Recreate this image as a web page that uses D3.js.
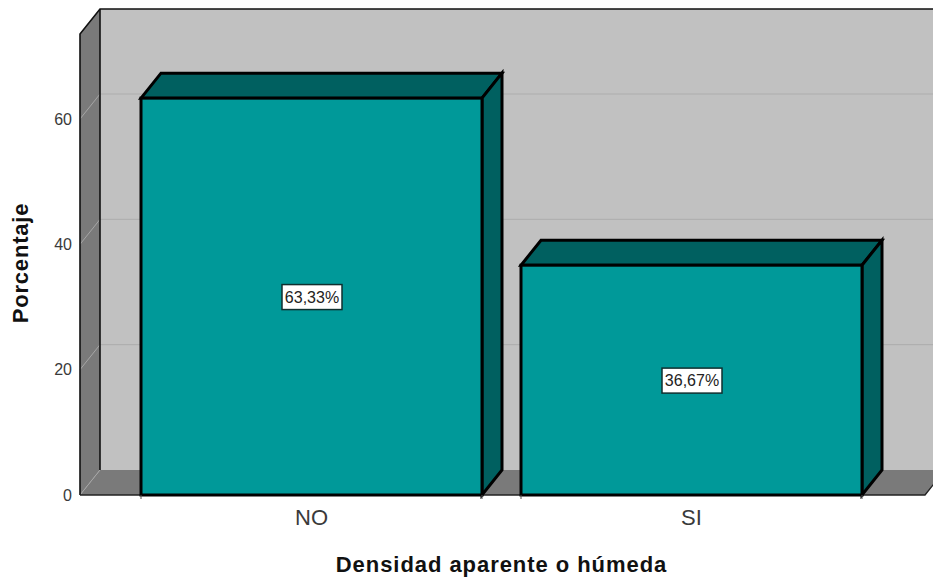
<!DOCTYPE html>
<html>
<head>
<meta charset="utf-8">
<script src="https://cdn.jsdelivr.net/npm/d3@7"></script>
<style>
html, body { margin: 0; padding: 0; background: #fff; overflow: hidden; }
svg { display: block; font-family: "Liberation Sans", Arial, sans-serif; }
</style>
</head>
<body>
<svg width="933" height="579"></svg>
<script>
const categories = ["NO", "SI"];
const percentages = [63.33, 36.67];
const percentLabels = ["63,33%", "36,67%"];
const yTicks = [0, 20, 40, 60];
const xTitle = "Densidad aparente o húmeda";
const yTitle = "Porcentaje";

const svg = d3.select("svg");

const attr_area = { left: 80, right: 925, top: 34, bottom: 495, depthX: 20, depthY: 25 };
const colors = {
    wall: "#c1c1c1", side: "#7a7a7a", grid: "#adadad", sideGrid: "#a6a6a6",
    front: "#009999", dark: "#006060", text: "#3a3a3a"
};

const scaleY = d3.scaleLinear()
    .domain([0, 60])
    .range([attr_area.bottom, 119]);

const scaleX = d3.scaleBand()
    .domain(categories)
    .range([attr_area.left, attr_area.right - 2])
    .paddingInner(39 / 380)
    .paddingOuter(61 / 380);

const a = attr_area;
const dx = a.depthX, dy = a.depthY;
const poly = pts => d3.line()(pts) + "Z";

// paredes del grafico
svg.append("path")
    .attr("d", poly([[a.left + dx, a.top - dy], [a.right + dx, a.top - dy], [a.right + dx, a.bottom - dy], [a.left + dx, a.bottom - dy]]))
    .attr("fill", colors.wall);
svg.append("path")
    .attr("d", poly([[a.left, a.top], [a.left + dx, a.top - dy], [a.left + dx, a.bottom - dy], [a.left, a.bottom]]))
    .attr("fill", colors.side);
svg.append("path")
    .attr("d", poly([[a.left, a.bottom], [a.left + dx, a.bottom - dy], [a.right + dx, a.bottom - dy], [a.right, a.bottom]]))
    .attr("fill", colors.side);

// rejilla
const gridTicks = yTicks.filter(d => d > 0);
svg.selectAll(".grid-back")
    .data(gridTicks)
    .enter()
    .append("line")
    .attr("x1", a.left + dx)
    .attr("x2", a.right + dx)
    .attr("y1", d => scaleY(d) - dy)
    .attr("y2", d => scaleY(d) - dy)
    .attr("stroke", colors.grid)
    .attr("stroke-width", 1);
svg.selectAll(".grid-side")
    .data(yTicks)
    .enter()
    .append("line")
    .attr("x1", a.left)
    .attr("x2", a.left + dx)
    .attr("y1", d => scaleY(d))
    .attr("y2", d => scaleY(d) - dy)
    .attr("stroke", colors.sideGrid)
    .attr("stroke-width", 1);

// bordes
svg.append("path")
    .attr("d", d3.line()([[a.left, a.bottom], [a.left, a.top], [a.left + dx, a.top - dy], [a.right + dx, a.top - dy]]))
    .attr("fill", "none")
    .attr("stroke", "#111")
    .attr("stroke-width", 1.6);
svg.append("line")
    .attr("x1", a.left + dx).attr("x2", a.left + dx)
    .attr("y1", a.top - dy).attr("y2", a.bottom - dy)
    .attr("stroke", "#111").attr("stroke-width", 1.6);
svg.append("path")
    .attr("d", d3.line()([[a.left, a.bottom], [a.right, a.bottom], [a.right + dx, a.bottom - dy]]))
    .attr("fill", "none")
    .attr("stroke", "#222")
    .attr("stroke-width", 1.4);

// barras
const bars = svg.selectAll(".bar")
    .data(categories.map((c, i) => ({ label: c, value: percentages[i], text: percentLabels[i] })))
    .enter()
    .append("g")
    .attr("class", "bar");

const bw = scaleX.bandwidth();

bars.append("path")
    .attr("d", d => {
        const x = scaleX(d.label), y = scaleY(d.value);
        return poly([[x, y], [x + dx, y - dy], [x + bw + dx, y - dy], [x + bw, y]]);
    })
    .attr("fill", colors.dark);
bars.append("path")
    .attr("d", d => {
        const x = scaleX(d.label) + bw, y = scaleY(d.value);
        return poly([[x, y], [x + dx, y - dy], [x + dx, a.bottom - dy], [x, a.bottom]]);
    })
    .attr("fill", colors.dark);
bars.append("rect")
    .attr("x", d => scaleX(d.label))
    .attr("y", d => scaleY(d.value))
    .attr("width", bw)
    .attr("height", d => a.bottom - scaleY(d.value))
    .attr("fill", colors.front);
bars.selectAll("path, rect")
    .attr("stroke", "#000")
    .attr("stroke-width", 3)
    .attr("stroke-linejoin", "miter");

// etiquetas de valor
const labelW = 60, labelH = 25;
bars.append("rect")
    .attr("x", d => scaleX(d.label) + bw / 2 - labelW / 2 + 0.5)
    .attr("y", d => (scaleY(d.value) + a.bottom) / 2 - labelH / 2 + 0.5)
    .attr("width", labelW)
    .attr("height", labelH)
    .attr("fill", "#fff")
    .attr("stroke", "#0f2f2f")
    .attr("stroke-width", 1.5);
bars.append("text")
    .attr("x", d => scaleX(d.label) + bw / 2 + 0.5)
    .attr("y", d => (scaleY(d.value) + a.bottom) / 2 + 6)
    .attr("text-anchor", "middle")
    .attr("font-size", 16)
    .attr("fill", "#222")
    .text(d => d.text);

// ejes
const axisY = d3.axisLeft(scaleY).tickValues(yTicks).tickSize(0).tickPadding(8);
const gY = svg.append("g")
    .attr("transform", `translate(${a.left}, 0)`)
    .call(axisY);
gY.select(".domain").remove();
gY.selectAll("text")
    .attr("font-size", 16)
    .attr("font-family", "'Liberation Sans', Arial, sans-serif")
    .attr("fill", colors.text);

const axisX = d3.axisBottom(scaleX).tickSize(0).tickPadding(14);
const gX = svg.append("g")
    .attr("transform", `translate(0, ${a.bottom})`)
    .call(axisX);
gX.select(".domain").remove();
gX.selectAll("text")
    .attr("font-size", 22)
    .attr("font-family", "'Liberation Sans', Arial, sans-serif")
    .attr("fill", colors.text);

// marcas bajo las barras
const edges = categories.flatMap(c => [scaleX(c), scaleX(c) + bw]);
svg.selectAll(".edge-tick")
    .data(edges)
    .enter()
    .append("line")
    .attr("x1", d => d).attr("x2", d => d)
    .attr("y1", a.bottom).attr("y2", a.bottom + 4)
    .attr("stroke", "#555").attr("stroke-width", 1);

// titulos
svg.append("text")
    .attr("x", 501.5)
    .attr("y", 572)
    .attr("text-anchor", "middle")
    .attr("font-size", 22)
    .attr("font-weight", "bold")
    .attr("letter-spacing", 0.95)
    .attr("fill", "#111")
    .text(xTitle);
svg.append("text")
    .attr("transform", "translate(28, 263) rotate(-90)")
    .attr("text-anchor", "middle")
    .attr("font-size", 22)
    .attr("font-weight", "bold")
    .attr("letter-spacing", 0.8)
    .attr("fill", "#111")
    .text(yTitle);
</script>
</body>
</html>
